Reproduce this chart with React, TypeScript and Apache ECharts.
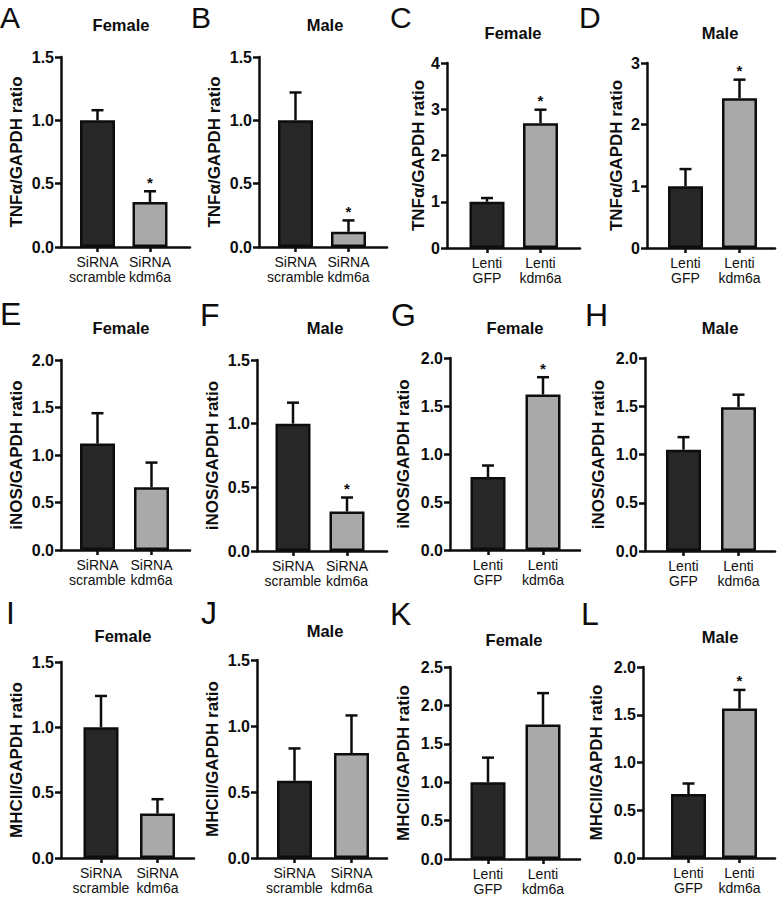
import React, { useEffect, useRef } from "react";
import * as echarts from "echarts";

const panelLetters = ["A", "B", "C", "D", "E", "F", "G", "H", "I", "J", "K", "L"];
const panelTitles = ["Female", "Male", "Female", "Male", "Female", "Male", "Female", "Male", "Female", "Male", "Female", "Male"];
const yAxisNames = [
  "TNFα/GAPDH ratio", "TNFα/GAPDH ratio", "TNFα/GAPDH ratio", "TNFα/GAPDH ratio",
  "iNOS/GAPDH ratio", "iNOS/GAPDH ratio", "iNOS/GAPDH ratio", "iNOS/GAPDH ratio",
  "MHCII/GAPDH ratio", "MHCII/GAPDH ratio", "MHCII/GAPDH ratio", "MHCII/GAPDH ratio",
];
const siRNACategories = ["SiRNA\nscramble", "SiRNA\nkdm6a"];
const lentiCategories = ["Lenti\nGFP", "Lenti\nkdm6a"];
const panelCategories = [
  siRNACategories, siRNACategories, lentiCategories, lentiCategories,
  siRNACategories, siRNACategories, lentiCategories, lentiCategories,
  siRNACategories, siRNACategories, lentiCategories, lentiCategories,
];
const controlMeans = [1.0, 1.0, 1.0, 1.0, 1.12, 1.0, 0.76, 1.05, 1.0, 0.585, 1.0, 0.67];
const treatedMeans = [0.355, 0.12, 2.7, 2.43, 0.66, 0.31, 1.62, 1.49, 0.34, 0.795, 1.75, 1.565];
const controlSem = [0.08, 0.22, 0.08, 0.28, 0.32, 0.165, 0.12, 0.13, 0.24, 0.245, 0.32, 0.11];
const treatedSem = [0.085, 0.09, 0.29, 0.3, 0.26, 0.11, 0.18, 0.13, 0.11, 0.285, 0.41, 0.195];
const treatedSignificant = [1, 1, 1, 1, 0, 1, 1, 0, 0, 0, 0, 1];
const yMax = [1.5, 1.5, 4, 3, 2, 1.5, 2, 2, 1.5, 1.5, 2.5, 2];
const yInterval = [0.5, 0.5, 1, 1, 0.5, 0.5, 0.5, 0.5, 0.5, 0.5, 0.5, 0.5];

// Layout (pixels): y-axis x, x-axis end, top tick y, zero y, bar centres, letter pos/size, title pos, name gap
const LAYOUT = [
  { ax: 61, ex: 190, top: 57, zero: 247, b1: 97.5, b2: 150, lx: 0, ly: 17, ls: 30, tx: 121, ty: 25, ng: 36 },
  { ax: 259, ex: 387, top: 57, zero: 247, b1: 295.5, b2: 348.5, lx: 191, ly: 17, ls: 30, tx: 325, ty: 25, ng: 36 },
  { ax: 447, ex: 580, top: 63, zero: 248, b1: 487, b2: 540.5, lx: 390, ly: 17, ls: 30, tx: 513, ty: 33, ng: 20 },
  { ax: 647, ex: 775, top: 63, zero: 248, b1: 685.5, b2: 739.5, lx: 579, ly: 17, ls: 30, tx: 720, ty: 33, ng: 22 },
  { ax: 61, ex: 190, top: 360, zero: 550, b1: 97.5, b2: 151.5, lx: 0, ly: 314, ls: 32, tx: 121, ty: 328, ng: 36 },
  { ax: 257, ex: 387, top: 360, zero: 551, b1: 293, b2: 347, lx: 200, ly: 315, ls: 32, tx: 325, ty: 328, ng: 36 },
  { ax: 450, ex: 580, top: 358, zero: 550, b1: 488, b2: 543, lx: 391, ly: 315, ls: 32, tx: 515, ty: 328, ng: 38 },
  { ax: 645, ex: 775, top: 358, zero: 551, b1: 683.5, b2: 738.5, lx: 585, ly: 315, ls: 32, tx: 720, ty: 328, ng: 38 },
  { ax: 61, ex: 194, top: 662, zero: 858, b1: 101, b2: 157.5, lx: 6, ly: 613, ls: 32, tx: 123, ty: 636, ng: 36 },
  { ax: 257, ex: 387, top: 660, zero: 858, b1: 294.5, b2: 351.5, lx: 201, ly: 613, ls: 32, tx: 325, ty: 631, ng: 36 },
  { ax: 450, ex: 580, top: 667, zero: 859, b1: 488, b2: 543, lx: 390, ly: 614, ls: 32, tx: 514, ty: 640, ng: 38 },
  { ax: 643, ex: 775, top: 667, zero: 858, b1: 688.5, b2: 739.5, lx: 581, ly: 614, ls: 32, tx: 720, ty: 637, ng: 38 },
];

const FONT = '"Liberation Sans", Arial, Helvetica, sans-serif';
const AX = "#0d0d0d";
const DARK = "#272727";
const GREY = "#a9a9a9";

export default function App() {
  const ref = useRef<HTMLDivElement>(null);
  useEffect(() => {
    document.body.style.margin = "0";
    const chart = echarts.init(ref.current as HTMLDivElement, null, { renderer: "svg" });
    const grids: any[] = [];
    const xAxes: any[] = [];
    const yAxes: any[] = [];
    const series: any[] = [];
    const graphics: any[] = [];

    const renderErr = (params: any, api: any) => {
      const x = api.value(0);
      const m = api.value(1);
      const s = api.value(2);
      const sig = api.value(3);
      const base = api.coord([x, m]);
      const top = api.coord([x, m + s]);
      const children: any[] = [
        { type: "line", shape: { x1: base[0], y1: base[1], x2: top[0], y2: top[1] }, style: { stroke: AX, lineWidth: 2.5 } },
        { type: "line", shape: { x1: top[0] - 6, y1: top[1], x2: top[0] + 6, y2: top[1] }, style: { stroke: AX, lineWidth: 2.5 } },
      ];
      if (sig) {
        children.push({
          type: "text",
          x: top[0],
          y: top[1] - 9,
          style: { text: "*", fontSize: 15, fontWeight: "bold", fontFamily: FONT, fill: AX, align: "center", verticalAlign: "middle" },
        });
      }
      return { type: "group", children };
    };

    LAYOUT.forEach((L, i) => {
      const fi = grids.length;
      const h = L.zero - L.top;
      grids.push({ left: L.ax, top: L.top, width: L.ex - L.ax, height: h, containLabel: false, outerBoundsMode: "none" });
      const d = L.b2 - L.b1;
      const di = grids.length;
      grids.push({ left: L.b1 - d / 2, top: L.top, width: 2 * d, height: h, containLabel: false, outerBoundsMode: "none" });

      const decimals = yInterval[i] >= 1 ? 0 : 1;
      xAxes.push({
        gridIndex: fi, type: "category", data: ["", ""],
        axisLine: { show: true, lineStyle: { color: AX, width: 2.5 } },
        axisTick: { show: false }, axisLabel: { show: false }, splitLine: { show: false },
      });
      xAxes.push({
        gridIndex: di, type: "category", data: panelCategories[i],
        axisLine: { show: false },
        axisTick: { show: true, alignWithLabel: true, interval: 0, length: 5, lineStyle: { color: AX, width: 2.5 } },
        axisLabel: { interval: 0, margin: 8, fontSize: 14, lineHeight: 14.5, color: "#111", fontFamily: FONT },
        splitLine: { show: false },
      });
      yAxes.push({
        gridIndex: fi, type: "value", min: 0, max: yMax[i], interval: yInterval[i],
        name: yAxisNames[i], nameLocation: "middle", nameGap: L.ng,
        nameTextStyle: { fontSize: 17, fontWeight: "bold", color: "#0d0d0d", fontFamily: FONT },
        axisLine: { show: true, lineStyle: { color: AX, width: 2.5 } },
        axisTick: { show: true, length: 6, lineStyle: { color: AX, width: 2.5 } },
        axisLabel: {
          margin: 7, fontSize: 16, fontWeight: "bold", color: "#0d0d0d", fontFamily: FONT,
          formatter: (v: number) => v.toFixed(decimals),
        },
        splitLine: { show: false },
      });
      yAxes.push({ gridIndex: di, type: "value", min: 0, max: yMax[i], interval: yInterval[i], show: false, splitLine: { show: false } });

      series.push({
        type: "bar", xAxisIndex: 2 * i + 1, yAxisIndex: 2 * i + 1, barWidth: 35, z: 2,
        itemStyle: { borderColor: AX, borderWidth: 2.5 },
        data: [
          { value: controlMeans[i], itemStyle: { color: DARK } },
          { value: treatedMeans[i], itemStyle: { color: GREY } },
        ],
      });
      series.push({
        type: "custom", xAxisIndex: 2 * i + 1, yAxisIndex: 2 * i + 1, z: 5, clip: false,
        renderItem: renderErr,
        encode: { x: 0, y: 1 },
        data: [
          [0, controlMeans[i], controlSem[i], 0],
          [1, treatedMeans[i], treatedSem[i], treatedSignificant[i]],
        ],
      });

      graphics.push({
        type: "text", x: L.lx, y: L.ly,
        style: { text: panelLetters[i], fontSize: L.ls, lineHeight: 24, fontFamily: FONT, fill: "#0d0d0d", align: "left", verticalAlign: "middle" },
      });
      graphics.push({
        type: "text", x: L.tx, y: L.ty,
        style: { text: panelTitles[i], fontSize: 16.5, fontWeight: "bold", fontFamily: FONT, fill: "#0d0d0d", align: "center", verticalAlign: "middle" },
      });
    });

    chart.setOption({
      animation: false,
      backgroundColor: "#ffffff",
      grid: grids,
      xAxis: xAxes,
      yAxis: yAxes,
      series,
      graphic: graphics,
    });
    return () => chart.dispose();
  }, []);
  return <div ref={ref} style={{ position: "absolute", left: 0, top: 0, width: 778, height: 897 }} />;
}
